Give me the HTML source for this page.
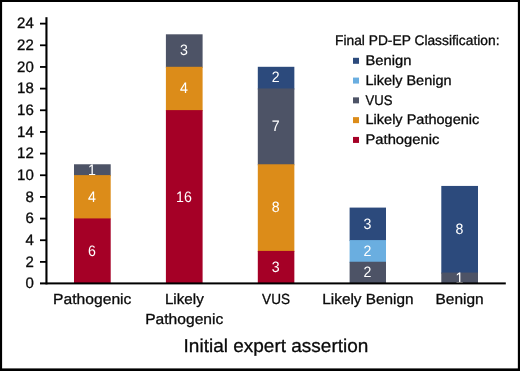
<!DOCTYPE html>
<html lang="en"><head><meta charset="utf-8"><title>Initial expert assertion vs final PD-EP classification</title>
<style>
html,body{margin:0;padding:0;background:#fff}
body{width:520px;height:371px;overflow:hidden}
svg{display:block;font-family:"Liberation Sans",Arial,sans-serif;text-rendering:geometricPrecision}
text{fill:#0a0a0a;stroke:#0a0a0a;stroke-width:.3px}
.w text{fill:#fff;stroke:none}
</style></head><body>
<svg width="520" height="371" viewBox="0 0 520 371">
<rect x="0" y="0" width="520" height="371" fill="#000"/>
<rect x="2.1" y="2" width="515.75" height="366.4" fill="#fff"/>

<g shape-rendering="auto">
<rect x="74.00" y="164.27" width="36.70" height="11.83" fill="#4d5366"/>
<rect x="74.00" y="175.10" width="36.70" height="44.32" fill="#dc8c19"/>
<rect x="74.00" y="218.42" width="36.70" height="64.98" fill="#a50026"/>
<rect x="165.90" y="34.31" width="36.70" height="33.49" fill="#4d5366"/>
<rect x="165.90" y="66.80" width="36.70" height="44.32" fill="#dc8c19"/>
<rect x="165.90" y="110.12" width="36.70" height="173.28" fill="#a50026"/>
<rect x="257.80" y="66.80" width="36.55" height="22.66" fill="#2c4a7c"/>
<rect x="257.80" y="88.46" width="36.55" height="76.81" fill="#4d5366"/>
<rect x="257.80" y="164.27" width="36.55" height="87.64" fill="#dc8c19"/>
<rect x="257.80" y="250.91" width="36.55" height="32.49" fill="#a50026"/>
<rect x="349.60" y="207.59" width="36.40" height="33.49" fill="#2c4a7c"/>
<rect x="349.60" y="240.08" width="36.40" height="22.66" fill="#6aaee0"/>
<rect x="349.60" y="261.74" width="36.40" height="21.66" fill="#4d5366"/>
<rect x="441.30" y="185.93" width="36.70" height="87.64" fill="#2c4a7c"/>
<rect x="441.30" y="272.57" width="36.70" height="10.83" fill="#4d5366"/>
</g>
<g font-size="15.2" text-anchor="end">
<text x="33.8" y="288.40" textLength="8.35" lengthAdjust="spacingAndGlyphs">0</text>
<text x="33.8" y="266.74" textLength="8.35" lengthAdjust="spacingAndGlyphs">2</text>
<text x="33.8" y="245.08" textLength="8.35" lengthAdjust="spacingAndGlyphs">4</text>
<text x="33.8" y="223.42" textLength="8.35" lengthAdjust="spacingAndGlyphs">6</text>
<text x="33.8" y="201.76" textLength="8.35" lengthAdjust="spacingAndGlyphs">8</text>
<text x="33.8" y="180.10" textLength="16.70" lengthAdjust="spacingAndGlyphs">10</text>
<text x="33.8" y="158.44" textLength="16.70" lengthAdjust="spacingAndGlyphs">12</text>
<text x="33.8" y="136.78" textLength="16.70" lengthAdjust="spacingAndGlyphs">14</text>
<text x="33.8" y="115.12" textLength="16.70" lengthAdjust="spacingAndGlyphs">16</text>
<text x="33.8" y="93.46" textLength="16.70" lengthAdjust="spacingAndGlyphs">18</text>
<text x="33.8" y="71.80" textLength="16.70" lengthAdjust="spacingAndGlyphs">20</text>
<text x="33.8" y="50.14" textLength="16.70" lengthAdjust="spacingAndGlyphs">22</text>
<text x="33.8" y="28.48" textLength="16.70" lengthAdjust="spacingAndGlyphs">24</text>
</g>
<g class="w" font-size="15.10" text-anchor="middle">
<text x="92.05" y="255.76" textLength="7.90" lengthAdjust="spacingAndGlyphs">6</text>
<text x="92.05" y="201.61" textLength="7.90" lengthAdjust="spacingAndGlyphs">4</text>
<text x="92.05" y="174.53" textLength="7.90" lengthAdjust="spacingAndGlyphs">1</text>
<text x="183.95" y="201.61" textLength="15.80" lengthAdjust="spacingAndGlyphs">16</text>
<text x="183.95" y="93.31" textLength="7.90" lengthAdjust="spacingAndGlyphs">4</text>
<text x="183.95" y="55.40" textLength="7.90" lengthAdjust="spacingAndGlyphs">3</text>
<text x="275.78" y="272.00" textLength="7.90" lengthAdjust="spacingAndGlyphs">3</text>
<text x="275.78" y="212.44" textLength="7.90" lengthAdjust="spacingAndGlyphs">8</text>
<text x="275.78" y="131.21" textLength="7.90" lengthAdjust="spacingAndGlyphs">7</text>
<text x="275.78" y="82.48" textLength="7.90" lengthAdjust="spacingAndGlyphs">2</text>
<text x="367.50" y="277.42" textLength="7.90" lengthAdjust="spacingAndGlyphs">2</text>
<text x="367.50" y="255.76" textLength="7.90" lengthAdjust="spacingAndGlyphs">2</text>
<text x="367.50" y="228.68" textLength="7.90" lengthAdjust="spacingAndGlyphs">3</text>
<text x="459.35" y="282.83" textLength="7.90" lengthAdjust="spacingAndGlyphs">1</text>
<text x="459.35" y="234.10" textLength="7.90" lengthAdjust="spacingAndGlyphs">8</text>
</g>
<g fill="#000">
<rect x="45.4" y="17.2" width="2.1" height="267.20"/>
<rect x="40" y="282.4" width="465.80" height="2"/>
<rect x="40" y="260.99" width="6" height="1.8"/>
<rect x="40" y="239.33" width="6" height="1.8"/>
<rect x="40" y="217.67" width="6" height="1.8"/>
<rect x="40" y="196.01" width="6" height="1.8"/>
<rect x="40" y="174.35" width="6" height="1.8"/>
<rect x="40" y="152.69" width="6" height="1.8"/>
<rect x="40" y="131.03" width="6" height="1.8"/>
<rect x="40" y="109.37" width="6" height="1.8"/>
<rect x="40" y="87.71" width="6" height="1.8"/>
<rect x="40" y="66.05" width="6" height="1.8"/>
<rect x="40" y="44.39" width="6" height="1.8"/>
<rect x="40" y="22.73" width="6" height="1.8"/>
</g>
<g font-size="14.7">
<text x="53.10" y="303.80" textLength="78.30" lengthAdjust="spacingAndGlyphs">Pathogenic</text>
<text x="164.90" y="303.80" textLength="38.90" lengthAdjust="spacingAndGlyphs">Likely</text>
<text x="145.20" y="323.60" textLength="78.10" lengthAdjust="spacingAndGlyphs">Pathogenic</text>
<text x="262.10" y="303.80" textLength="27.90" lengthAdjust="spacingAndGlyphs">VUS</text>
<text x="322.30" y="303.80" textLength="91.20" lengthAdjust="spacingAndGlyphs">Likely Benign</text>
<text x="435.50" y="303.80" textLength="48.20" lengthAdjust="spacingAndGlyphs">Benign</text>
</g>
<text x="183.6" y="351.6" font-size="18.6" textLength="184.8" lengthAdjust="spacingAndGlyphs">Initial expert assertion</text>
<g font-size="13.8">
<text x="335.0" y="45.2" textLength="164.5" lengthAdjust="spacingAndGlyphs">Final PD-EP Classification:</text>
<rect x="353" y="57.80" width="6" height="6" fill="#2c4a7c"/>
<text x="365.5" y="65.10" textLength="45.90" lengthAdjust="spacingAndGlyphs">Benign</text>
<rect x="353" y="77.58" width="6" height="6" fill="#6aaee0"/>
<text x="365.5" y="84.88" textLength="86.00" lengthAdjust="spacingAndGlyphs">Likely Benign</text>
<rect x="353" y="97.36" width="6" height="6" fill="#4d5366"/>
<text x="365.5" y="104.66" textLength="26.90" lengthAdjust="spacingAndGlyphs">VUS</text>
<rect x="353" y="117.14" width="6" height="6" fill="#dc8c19"/>
<text x="365.5" y="124.44" textLength="113.80" lengthAdjust="spacingAndGlyphs">Likely Pathogenic</text>
<rect x="353" y="136.92" width="6" height="6" fill="#a50026"/>
<text x="365.5" y="144.22" textLength="73.80" lengthAdjust="spacingAndGlyphs">Pathogenic</text>
</g>
</svg></body></html>
